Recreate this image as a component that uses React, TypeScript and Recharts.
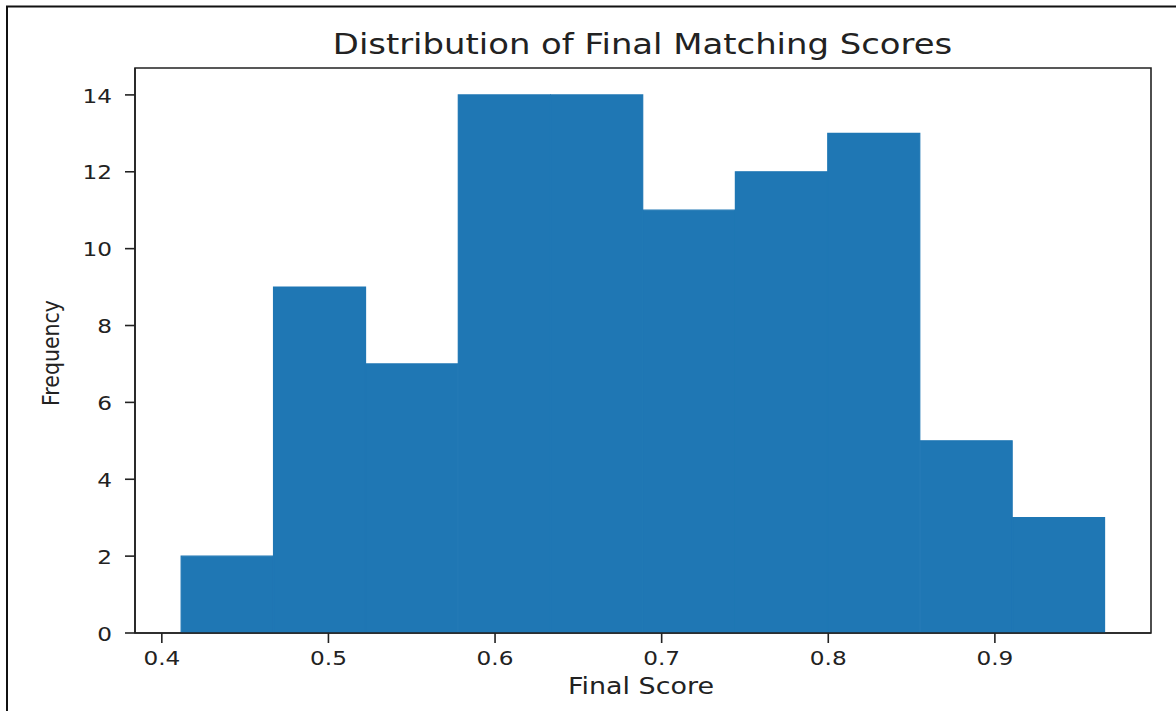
import React from 'react';
import { ComposedChart, Bar, XAxis, YAxis, ReferenceArea, Label } from 'recharts';

// Histogram bin edges (Final Score) and bin frequencies
const binEdges = [0.4116, 0.467, 0.5225, 0.5779, 0.6334, 0.6888, 0.7442, 0.7997, 0.8551, 0.9106, 0.966];
const counts = [2, 9, 7, 14, 14, 11, 12, 13, 5, 3];
const xTicks = [0.4, 0.5, 0.6, 0.7, 0.8, 0.9];
const yTicks = [0, 2, 4, 6, 8, 10, 12, 14];
const xDomain: [number, number] = [0.3839, 0.9937];
const yDomain: [number, number] = [0, 14.7];

const data = counts.map((c, i) => ({
  x0: binEdges[i],
  x1: binEdges[i + 1],
  mid: (binEdges[i] + binEdges[i + 1]) / 2,
  count: c,
}));

const FONT = 'DejaVu Sans';
const TXT = '#222';
const STRETCH = 1.16;
const BAR = '#1f77b4';

const XTick = (props: any) => {
  const { x, y, payload } = props;
  return (
    <g transform={`translate(${x},${y}) scale(${STRETCH},1)`}>
      <text x={0} y={22} textAnchor="middle" fontFamily={FONT} fontSize={20} fill={TXT}>
        {Number(payload.value).toFixed(1)}
      </text>
    </g>
  );
};

const YTick = (props: any) => {
  const { x, y, payload } = props;
  return (
    <g transform={`translate(${x - 13},${y}) scale(${STRETCH},1)`}>
      <text x={0} y={7.6} textAnchor="end" fontFamily={FONT} fontSize={20} fill={TXT}>
        {payload.value}
      </text>
    </g>
  );
};

export default function App() {
  return (
    <div style={{ position: 'absolute', left: 0, top: 0, width: 1176, height: 711, background: '#fff', overflow: 'hidden' }}>
      <ComposedChart
        width={1176}
        height={711}
        data={data}
        margin={{ top: 68, right: 25, bottom: 0, left: 0 }}
        barCategoryGap={0}
        barGap={0}
      >
        <XAxis
          dataKey="mid"
          type="number"
          domain={xDomain}
          ticks={xTicks}
          allowDataOverflow
          height={78}
          tickSize={10}
          tickMargin={0}
          axisLine={{ stroke: '#222', strokeWidth: 1.6 }}
          tickLine={{ stroke: '#222', strokeWidth: 1.6 }}
          tick={<XTick />}
        >
          <Label
            content={(p: any) => {
              const vb = p.viewBox || { x: 135, y: 633, width: 1016, height: 78 };
              return (
                <g transform={`translate(${vb.x + vb.width / 2 - 2},${vb.y + 61}) scale(${STRETCH},1)`}>
                  <text x={0} y={0} textAnchor="middle" fontFamily={FONT} fontSize={23.2} fill={TXT}>
                    Final Score
                  </text>
                </g>
              );
            }}
          />
        </XAxis>
        <YAxis
          type="number"
          domain={yDomain}
          ticks={yTicks}
          allowDataOverflow
          width={135}
          tickSize={10}
          tickMargin={0}
          axisLine={{ stroke: '#222', strokeWidth: 1.6 }}
          tickLine={{ stroke: '#222', strokeWidth: 1.6 }}
          tick={<YTick />}
        >
          <Label
            content={(p: any) => {
              const vb = p.viewBox || { x: 0, y: 68, width: 135, height: 565 };
              return (
                <g transform={`translate(${vb.x + 59},${vb.y + vb.height / 2 + 2.5}) scale(${STRETCH},1) rotate(-90)`}>
                  <text x={0} y={0} textAnchor="middle" fontFamily={FONT} fontSize={20.5} fill={TXT}>
                    Frequency
                  </text>
                </g>
              );
            }}
          />
        </YAxis>
        <Bar dataKey="count" fill={BAR} stroke={BAR} strokeWidth={1.2} isAnimationActive={false} />
        <ReferenceArea
          x1={xDomain[0]}
          x2={xDomain[1]}
          y1={yDomain[0]}
          y2={yDomain[1]}
          fill="none"
          fillOpacity={0}
          stroke="#222"
          strokeWidth={1.6}
          ifOverflow="visible"
        />
      </ComposedChart>
      <svg
        width={1176}
        height={711}
        style={{ position: 'absolute', left: 0, top: 0, pointerEvents: 'none' }}
      >
        <g transform={`translate(642.5,54) scale(${STRETCH},1)`}>
          <text x={0} y={0} textAnchor="middle" fontFamily={FONT} fontSize={29.2} fill={TXT}>
            Distribution of Final Matching Scores
          </text>
        </g>
        <path d="M7,1200 L7,6.5 L1200,6.5" fill="none" stroke="#111" strokeWidth={2} />
      </svg>
    </div>
  );
}
